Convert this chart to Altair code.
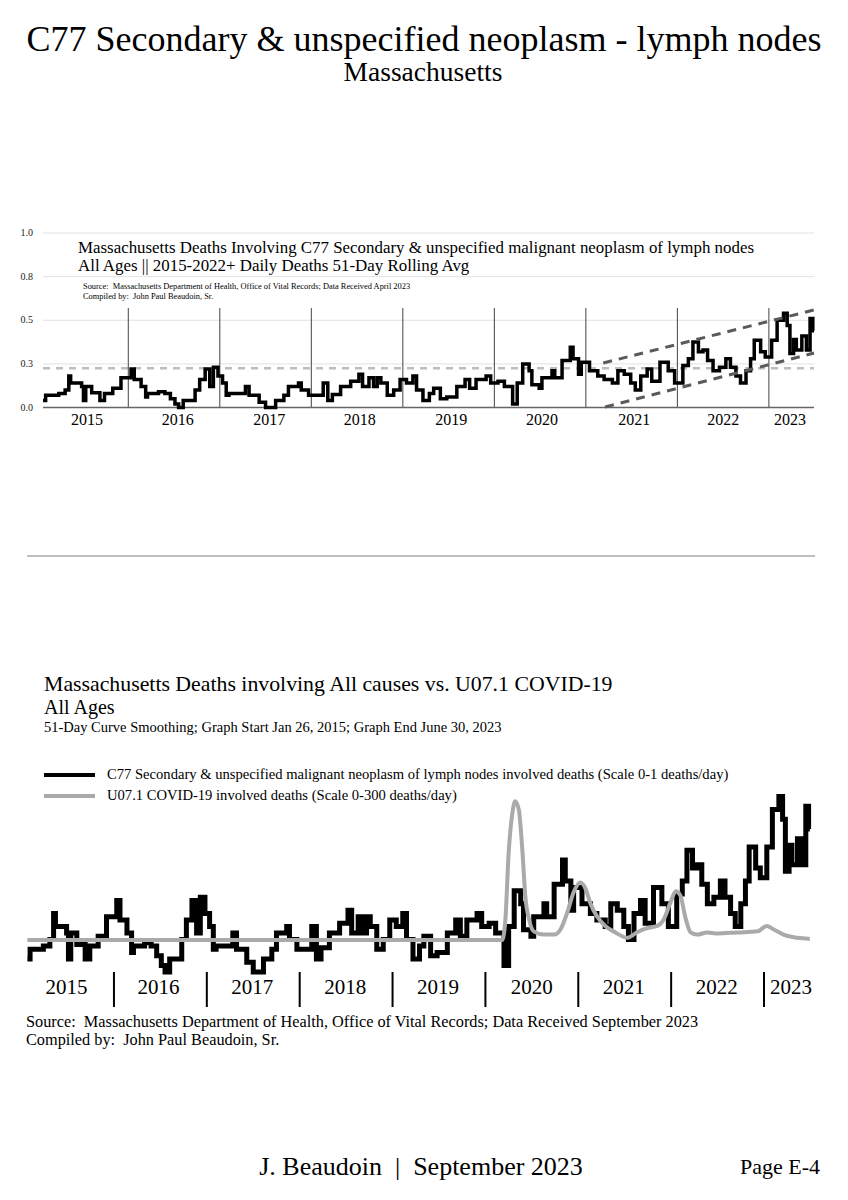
import altair as alt
import pandas as pd

FONT = "Liberation Serif"
NB = "\u00a0"
X0, X1 = 2015.068, 2023.493  # Jan 26, 2015 .. Jun 30, 2023 (decimal years)

# C77 51-day rolling average deaths/day
C77_YEAR = [2015.068, 2015.097, 2015.24, 2015.31, 2015.35, 2015.37, 2015.49, 2015.51, 2015.535, 2015.60,
            2015.69, 2015.74, 2015.83, 2015.92, 2016.03, 2016.065, 2016.14, 2016.19, 2016.21, 2016.33,
            2016.40, 2016.46, 2016.51, 2016.55, 2016.60, 2016.73, 2016.78, 2016.84, 2016.89, 2016.93,
            2016.98, 2017.03, 2017.07, 2017.10, 2017.28, 2017.32, 2017.43, 2017.50, 2017.61, 2017.70,
            2017.75, 2017.86, 2017.89, 2017.97, 2018.13, 2018.18, 2018.23, 2018.32, 2018.43, 2018.52,
            2018.56, 2018.63, 2018.68, 2018.72, 2018.76, 2018.83, 2018.90, 2018.97, 2019.04, 2019.11,
            2019.15, 2019.22, 2019.29, 2019.337, 2019.41, 2019.48, 2019.59, 2019.68, 2019.73, 2019.80,
            2019.91, 2019.96, 2020.04, 2020.11, 2020.20, 2020.25, 2020.31, 2020.38, 2020.41, 2020.49,
            2020.52, 2020.63, 2020.66, 2020.74, 2020.83, 2020.86, 2020.92, 2020.95, 2021.04, 2021.13,
            2021.20, 2021.29, 2021.35, 2021.42, 2021.49, 2021.54, 2021.60, 2021.67, 2021.72, 2021.81,
            2021.90, 2021.97, 2022.06, 2022.12, 2022.17, 2022.23, 2022.28, 2022.33, 2022.39, 2022.46,
            2022.53, 2022.58, 2022.64, 2022.69, 2022.75, 2022.80, 2022.84, 2022.91, 2022.96, 2023.03,
            2023.09, 2023.16, 2023.20, 2023.23, 2023.27, 2023.30, 2023.36, 2023.41, 2023.45, 2023.48,
            2023.493]
C77_VALUE = [0.04, 0.07, 0.08, 0.10, 0.18, 0.14, 0.12, 0.04, 0.12, 0.085,
             0.04, 0.08, 0.11, 0.17, 0.22, 0.16, 0.12, 0.06, 0.08, 0.09,
             0.08, 0.05, 0.02, 0.00, 0.04, 0.10, 0.16, 0.22, 0.12, 0.23,
             0.18, 0.14, 0.07, 0.08, 0.12, 0.07, 0.03, 0.00, 0.04, 0.07,
             0.12, 0.14, 0.10, 0.07, 0.14, 0.04, 0.075, 0.12, 0.15, 0.19,
             0.12, 0.17, 0.12, 0.17, 0.14, 0.07, 0.10, 0.16, 0.14, 0.18,
             0.10, 0.04, 0.08, 0.11, 0.05, 0.06, 0.12, 0.16, 0.11, 0.16,
             0.18, 0.14, 0.15, 0.12, 0.02, 0.14, 0.25, 0.21, 0.13, 0.11,
             0.17, 0.21, 0.17, 0.27, 0.345, 0.28, 0.19, 0.26, 0.21, 0.18,
             0.16, 0.14, 0.21, 0.19, 0.14, 0.10, 0.18, 0.22, 0.15, 0.26,
             0.21, 0.14, 0.24, 0.28, 0.375, 0.32, 0.33, 0.27, 0.21, 0.23,
             0.28, 0.23, 0.18, 0.14, 0.21, 0.28, 0.385, 0.32, 0.29, 0.385,
             0.50, 0.54, 0.47, 0.31, 0.39, 0.33, 0.41, 0.33, 0.51, 0.44,
             0.44]

# U07.1 COVID-19 involved deaths/day, 51-day smoothing
COVID_YEAR = [2015.068, 2020.18, 2020.215, 2020.25, 2020.29, 2020.32, 2020.36, 2020.40, 2020.43, 2020.47,
              2020.52, 2020.63, 2020.74, 2020.81, 2020.88, 2020.95, 2021.02, 2021.08, 2021.13, 2021.20,
              2021.29, 2021.40, 2021.53, 2021.63, 2021.74, 2021.85, 2021.92, 2021.99, 2022.05, 2022.10,
              2022.15, 2022.21, 2022.28, 2022.39, 2022.50, 2022.71, 2022.93, 2023.03, 2023.10, 2023.21,
              2023.36, 2023.493]
COVID_VALUE = [0, 0, 19, 80, 117, 128, 120, 80, 40, 19,
               8, 5, 5, 10, 25, 44, 53, 47, 34, 22,
               13, 7, 2, 7, 11, 13, 19, 34, 45, 41,
               22, 7, 5, 7, 6, 7, 8, 13, 10, 5,
               2, 1]

YEAR_LABELS = ["2015", "2016", "2017", "2018", "2019", "2020", "2021", "2022", "2023"]
YEAR_BOUNDS = [2016, 2017, 2018, 2019, 2020, 2021, 2022, 2023]
TOP_LABEL_POS = [2015.55, 2016.54, 2017.54, 2018.53, 2019.53, 2020.52, 2021.53, 2022.50, 2023.23]
BOT_LABEL_POS = [2015.49, 2016.48, 2017.49, 2018.49, 2019.49, 2020.50, 2021.49, 2022.49, 2023.29]

Y_TICKS = [0.0, 0.25, 0.5, 0.75, 1.0]
Y_TICK_LABELS = ["0.0", "0.3", "0.5", "0.8", "1.0"]
GRID_VALUES = [0.25, 0.5, 0.75, 1.0]
REF_LEVEL = 0.225
YEAR_LINE_TOP = 0.57
TREND_SEG = ["upper", "upper", "lower", "lower"]
TREND_YEAR = [2021.19, 2023.493, 2021.21, 2023.493]
TREND_VALUE = [0.255, 0.559, 0.003, 0.312]

# ---------------- scales ----------------
def qs(domain, rng):
    return alt.Scale(domain=domain, range=rng, nice=False, zero=False)

xT = qs([X0, X1], [35, 806])
yT = qs([0, 1], [399.5, 225])
xB = qs([X0, X1], [19.4, 801.8])
yB = qs([0, 1], [964, 639])
yC = qs([0, 300], [932, 607])

c77 = pd.DataFrame({"yr": C77_YEAR, "v": C77_VALUE})
covid = pd.DataFrame({"yr": COVID_YEAR, "v": COVID_VALUE})
one = pd.DataFrame({"a": [0]})


def X(field, sc):
    return alt.X(field, type="quantitative", scale=sc, axis=None)


def Y(field, sc):
    return alt.Y(field, type="quantitative", scale=sc, axis=None)


def txt(s, x, y, size, align="left", color="black", baseline="middle"):
    return alt.Chart(pd.DataFrame({"t": [s]})).mark_text(
        align=align, baseline=baseline, font=FONT, fontSize=size, color=color
    ).encode(x=alt.value(x), y=alt.value(y), text="t:N")


def hrule(x0, x1, y, color, width):
    return alt.Chart(one).mark_rule(color=color, strokeWidth=width).encode(
        x=alt.value(x0), x2=alt.value(x1), y=alt.value(y))


layers = []

# ---------------- page header ----------------
layers.append(txt("C77 Secondary & unspecified neoplasm - lymph nodes", 416, 32, 36, align="center"))
layers.append(txt("Massachusetts", 415, 65, 27.5, align="center"))

# ---------------- top chart ----------------
grid = pd.DataFrame({"g": GRID_VALUES, "x0": X0, "x1": X1})
layers.append(alt.Chart(grid).mark_rule(color="#e2e2e2", strokeWidth=1).encode(
    x=X("x0", xT), x2="x1", y=Y("g", yT)))
ref = pd.DataFrame({"g": [REF_LEVEL], "x0": [X0], "x1": [X1]})
layers.append(alt.Chart(ref).mark_rule(color="#bdbdbd", strokeWidth=2.5, strokeDash=[7, 6]).encode(
    x=X("x0", xT), x2="x1", y=Y("g", yT)))
vl = pd.DataFrame({"yr": YEAR_BOUNDS, "lo": 0.0, "hi": YEAR_LINE_TOP})
layers.append(alt.Chart(vl).mark_rule(color="#444444", strokeWidth=1).encode(
    x=X("yr", xT), y=Y("lo", yT), y2="hi"))
dom = pd.DataFrame({"g": [0.0], "x0": [X0], "x1": [X1]})
layers.append(alt.Chart(dom).mark_rule(color="#666666", strokeWidth=1.5).encode(
    x=X("x0", xT), x2="x1", y=Y("g", yT)))
layers.append(alt.Chart(c77).mark_line(interpolate="step-after", color="black", strokeWidth=3.5).encode(
    x=X("yr", xT), y=Y("v", yT)))
trend = pd.DataFrame({"seg": TREND_SEG, "yr": TREND_YEAR, "v": TREND_VALUE})
layers.append(alt.Chart(trend).mark_line(color="#5a5a5a", strokeWidth=3, strokeDash=[9, 7]).encode(
    x=X("yr", xT), y=Y("v", yT), detail="seg:N"))
ytl = pd.DataFrame({"v": Y_TICKS, "t": Y_TICK_LABELS})
layers.append(alt.Chart(ytl).mark_text(align="right", baseline="middle", font=FONT, fontSize=10, color="#222").encode(
    x=alt.value(25), y=Y("v", yT), text="t:N"))
ylab = pd.DataFrame({"p": TOP_LABEL_POS, "t": YEAR_LABELS})
layers.append(alt.Chart(ylab).mark_text(align="center", baseline="middle", font=FONT, fontSize=16, color="black").encode(
    x=X("p", xT), y=alt.value(412), text="t:N"))

layers.append(txt("Massachusetts Deaths Involving C77 Secondary & unspecified malignant neoplasm of lymph nodes", 70, 240, 16.9))
layers.append(txt("All Ages || 2015-2022+ Daily Deaths 51-Day Rolling Avg", 70, 258, 16.9))
layers.append(txt("Source:" + NB + " Massachusetts Department of Health, Office of Vital Records; Data Received April 2023", 75, 278, 8.4))
layers.append(txt("Compiled by:" + NB + " John Paul Beaudoin, Sr.", 75, 288, 8.4))

# separator
layers.append(hrule(19, 807, 548, "#aaaaaa", 1.5))

# ---------------- bottom chart ----------------
layers.append(txt("Massachusetts Deaths involving All causes vs. U07.1 COVID-19", 36, 676, 21.8))
layers.append(txt("All Ages", 36, 700, 20))
layers.append(txt("51-Day Curve Smoothing; Graph Start Jan 26, 2015; Graph End June 30, 2023", 36, 720, 14.5))

layers.append(hrule(36, 87, 767, "black", 4))
layers.append(txt("C77 Secondary & unspecified malignant neoplasm of lymph nodes involved deaths (Scale 0-1 deaths/day)", 99, 767, 14.6))
layers.append(hrule(36, 87, 788, "#aaaaaa", 4))
layers.append(txt("U07.1 COVID-19 involved deaths (Scale 0-300 deaths/day)", 99, 788, 14.6))

layers.append(alt.Chart(c77).mark_line(interpolate="step-after", color="black", strokeWidth=5).encode(
    x=X("yr", xB), y=Y("v", yB)))
layers.append(alt.Chart(covid).mark_line(interpolate="monotone", color="#aaaaaa", strokeWidth=4).encode(
    x=X("yr", xB), y=Y("v", yC)))

bt = pd.DataFrame({"yr": YEAR_BOUNDS})
layers.append(alt.Chart(bt).mark_rule(color="black", strokeWidth=2).encode(
    x=X("yr", xB), y=alt.value(964), y2=alt.value(999)))
blab = pd.DataFrame({"p": BOT_LABEL_POS, "t": YEAR_LABELS})
layers.append(alt.Chart(blab).mark_text(align="center", baseline="middle", font=FONT, fontSize=21, color="black").encode(
    x=X("p", xB), y=alt.value(980), text="t:N"))

layers.append(txt("Source:" + NB + " Massachusetts Department of Health, Office of Vital Records; Data Received September 2023", 18, 1014, 16.3))
layers.append(txt("Compiled by:" + NB + " John Paul Beaudoin, Sr.", 18, 1032, 16.3))

# ---------------- footer ----------------
layers.append(txt("J. Beaudoin" + NB + " |" + NB + " September 2023", 413, 1159, 26, align="center"))
layers.append(txt("Page E-4", 812, 1159, 22, align="right"))

chart = alt.layer(*layers).resolve_scale(x="independent", y="independent").properties(
    width=832, height=1184, padding=0,
    autosize=alt.AutoSizeParams(type="none"),
    background="white",
).configure_view(stroke=None)

chart.save("out.html", embed_options={"renderer": "svg", "actions": False})
